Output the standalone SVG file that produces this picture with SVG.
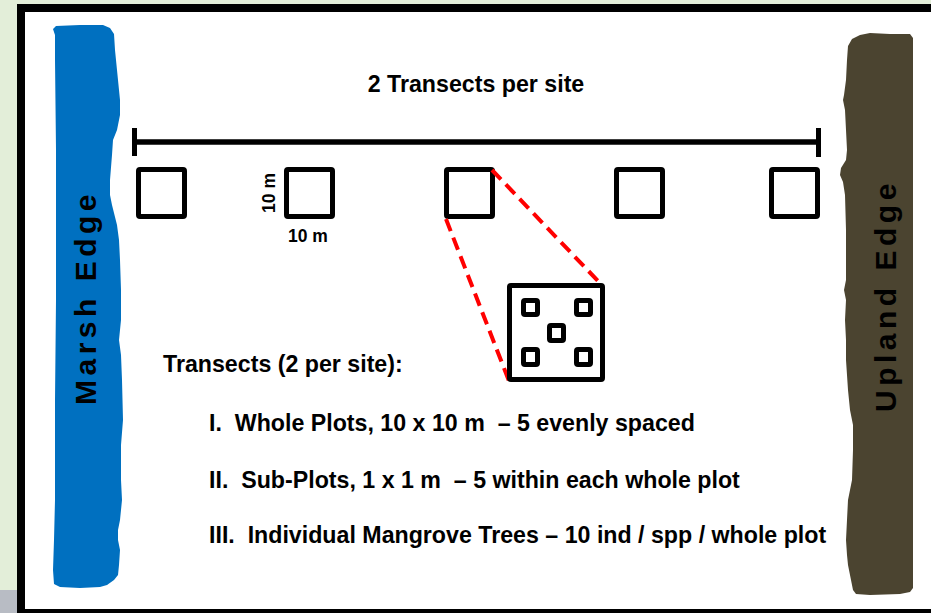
<svg xmlns="http://www.w3.org/2000/svg" width="931" height="613" viewBox="0 0 931 613">
<style>
.t{font-family:"Liberation Sans",Arial,sans-serif;font-weight:bold;fill:#000;white-space:pre}
.main{font-size:23.2px}
.small{font-size:17.5px}
.edge{font-size:30px;letter-spacing:4.5px}
.plot{fill:none;stroke:#000;stroke-width:5;stroke-linejoin:round}
.sub{fill:none;stroke:#000;stroke-width:5;stroke-linejoin:round}
.zoomline{stroke:#ff0000;stroke-width:4;stroke-dasharray:13 7;fill:none}
</style>
<rect x="0" y="0" width="931" height="613" fill="#e3eed9"/>
<rect x="0" y="590" width="17" height="23" fill="#b8bcc4"/>
<g id="frame">
<rect x="21" y="8" width="920" height="605" fill="#fff" stroke="#000" stroke-width="8"/>
</g>
<g id="marsh-edge">
<path d="M53,29 L56,26 L80,25 L103,25 L110,28 L114,34 L115,50 L117,70 L120,100 L120,115 L117,130 L113,140 L112,155 L110,180 L110,195 L112,205 L117,225 L119,240 L120,260 L121,290 L121,320 L120,330 L119,340 L121,355 L122,380 L123,420 L121,445 L121,480 L122,500 L120,520 L118,530 L118,540 L120,550 L119,565 L118,575 L114,580 L107,585 L100,587 L80,588 L60,587 L54,584 L53,570 L54,540 L55,500 L55,400 L56,300 L56,200 L56,150 L55,60 L55,35 Z" fill="#0070c0"/>
<text class="t edge" transform="translate(96,405) rotate(-90)">Marsh Edge</text>
</g>
<g id="upland-edge">
<path d="M848,46 L852,39 L860,35 L870,33 L890,34 L910,34 L913,38 L913,120 L913,300 L913,500 L913,588 L910,592 L900,594 L870,595 L856,594 L853,590 L851,580 L848,565 L847,555 L846,540 L847,520 L848,500 L852,480 L853,450 L853,425 L850,410 L848,390 L846,360 L846,340 L845,320 L846,300 L844,290 L846,280 L846,230 L845,195 L843,182 L840,175 L841,168 L846,160 L847,150 L846,130 L845,110 L843,100 L844,95 L846,80 L847,60 Z" fill="#4b4430"/>
<text class="t edge" transform="translate(896,412) rotate(-90)">Upland Edge</text>
</g>
<g id="title">
<text class="t main" x="476" y="92" text-anchor="middle">2 Transects per site</text>
</g>
<g id="transect">
<line x1="134.5" y1="142" x2="818.5" y2="142" stroke="#000" stroke-width="5.5"/>
<line x1="134.5" y1="128" x2="134.5" y2="156" stroke="#000" stroke-width="5"/>
<line x1="818.5" y1="128" x2="818.5" y2="157" stroke="#000" stroke-width="5"/>
</g>
<g id="plot1"><rect class="plot" x="138.5" y="169.5" width="46" height="47" rx="1.5"/></g>
<g id="plot2">
<rect class="plot" x="286.5" y="169.5" width="46" height="47" rx="1.5"/>
<text class="t small" transform="translate(275,193) rotate(-90)" text-anchor="middle">10 m</text>
<text class="t small" x="308" y="242" text-anchor="middle">10 m</text>
</g>
<g id="plot3"><rect class="plot" x="446.5" y="169.5" width="46" height="47" rx="1.5"/></g>
<g id="plot4"><rect class="plot" x="616.5" y="169.5" width="46" height="47" rx="1.5"/></g>
<g id="plot5"><rect class="plot" x="771.5" y="169.5" width="46" height="47" rx="1.5"/></g>
<g id="connectors">
<line class="zoomline" x1="446" y1="219" x2="509" y2="381"/>
<line class="zoomline" x1="492" y1="170" x2="598" y2="281"/>
</g>
<g id="plot-detail">
<rect class="plot" x="509.5" y="285.5" width="93" height="94" rx="1.5"/>
<rect class="sub" x="523.5" y="300.5" width="14" height="14" rx="1.5"/>
<rect class="sub" x="576.5" y="300.5" width="14" height="14" rx="1.5"/>
<rect class="sub" x="549.5" y="325.5" width="14" height="15" rx="1.5"/>
<rect class="sub" x="523.5" y="349.5" width="14" height="15" rx="1.5"/>
<rect class="sub" x="576.5" y="349.5" width="14" height="15" rx="1.5"/>
</g>
<g id="legend">
<text class="t main" x="163" y="372">Transects (2 per site):</text>
<text class="t main" x="209" y="431">I.  Whole Plots, 10 x 10 m  – 5 evenly spaced</text>
<text class="t main" x="209" y="488">II.  Sub-Plots, 1 x 1 m  – 5 within each whole plot</text>
<text class="t main" x="209" y="543">III.  Individual Mangrove Trees – 10 ind / spp / whole plot</text>
</g>
</svg>
